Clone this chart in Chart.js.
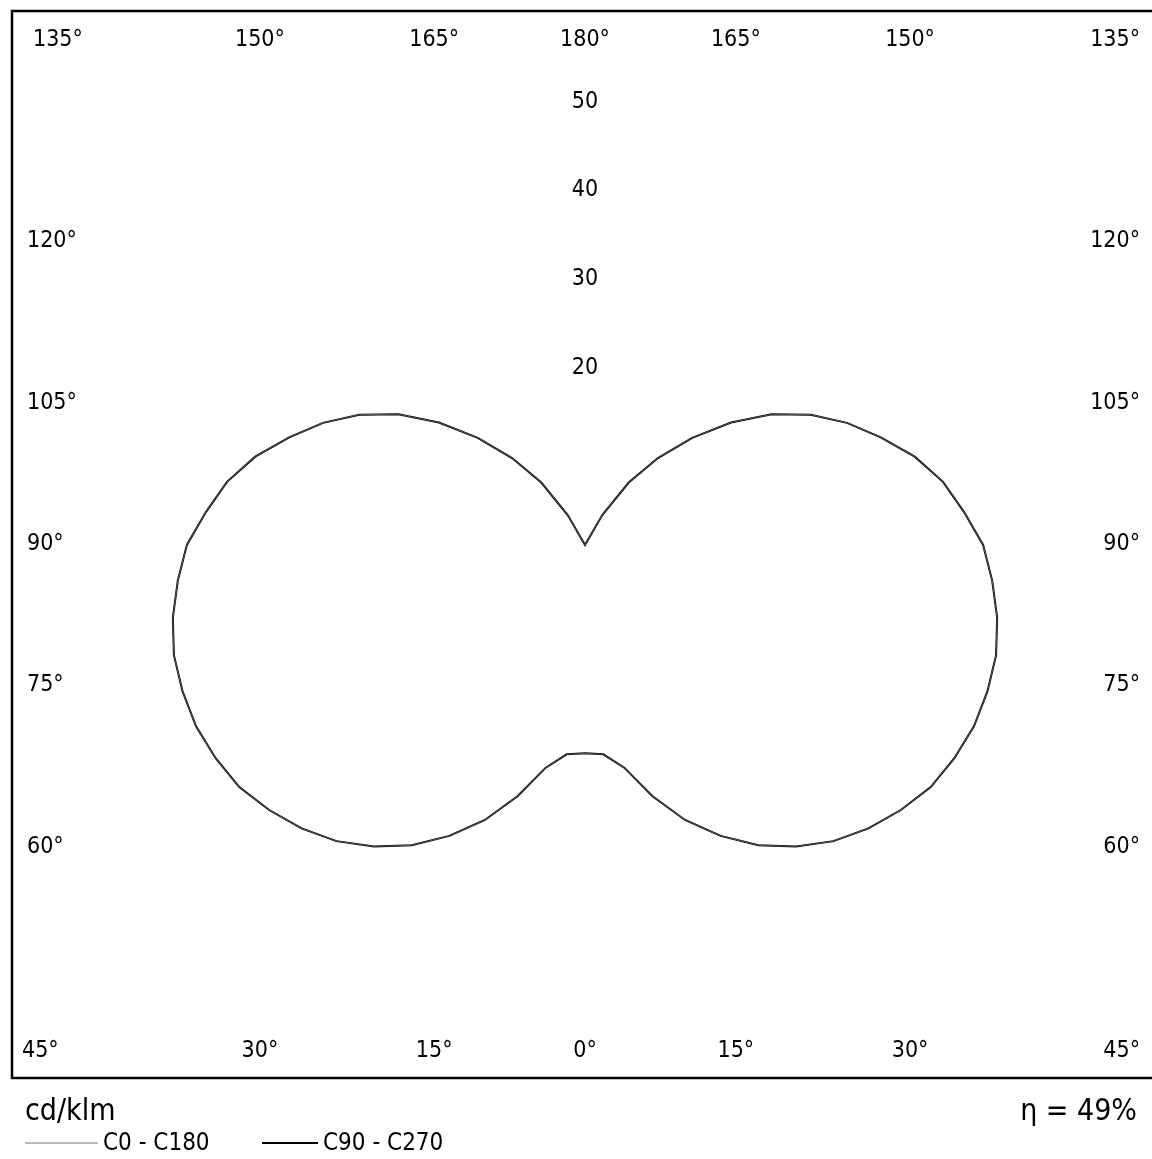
<!DOCTYPE html>
<html>
<head>
<meta charset="utf-8">
<script src="https://cdn.jsdelivr.net/npm/chart.js@4.4.0/dist/chart.umd.min.js"></script>
<style>
html, body { margin: 0; padding: 0; background: #fff; }
canvas { display: block; }
</style>
</head>
<body>
<canvas id="ldc" width="1152" height="1159"></canvas>
<script>
// Ausstrahlungswinkel gamma (0° = nach unten, 180° = nach oben)
const gammaDeg = [0, 5, 10, 15, 20, 25, 30, 35, 40, 45, 50, 55, 60, 65, 70, 75, 80, 85, 90,
                  95, 100, 105, 110, 115, 120, 125, 130, 135, 140, 145, 150, 155, 160, 165, 170, 175, 180];
// Lichtstaerke in cd/klm
const c90c270 = [23.5, 23.7, 25.5, 29.3, 33.0, 36.2, 39.1, 41.5, 43.6, 45.2, 46.5, 47.6, 48.1, 48.4, 48.3, 48.0, 47.2, 46.1, 44.9,
                 42.9, 41.0, 38.5, 35.5, 32.6, 29.4, 25.7, 21.5, 17.1, 12.8, 8.6, 3.9, 0, 0, 0, 0, 0, 0];
// C0-C180 liegt deckungsgleich unter der C90-C270 Kurve
const c0c180 = [23.5, 23.7, 25.5, 29.3, 33.0, 36.2, 39.1, 41.5, 43.6, 45.2, 46.5, 47.6, 48.1, 48.4, 48.3, 48.0, 47.2, 46.1, 44.9,
                42.9, 41.0, 38.5, 35.5, 32.6, 29.4, 25.7, 21.5, 17.1, 12.8, 8.6, 3.9, 0, 0, 0, 0, 0, 0];

// Beschriftungen
const radialTicks = [20, 30, 40, 50];
const topAngles = [135, 150, 165, 180, 165, 150, 135];
const bottomAngles = [45, 30, 15, 0, 15, 30, 45];
const sideAngles = [120, 105, 90, 75, 60];
const unitLabel = 'cd/klm';
const etaLabel = 'η = 49%';

const fontFam = "'DejaVu Sans Condensed', 'DejaVu Sans', sans-serif";
Chart.defaults.font.family = fontFam;
Chart.defaults.color = '#000';

// Radar: Index 0 oben (180°), im Uhrzeigersinn rechts herunter bis 0°, links wieder hinauf
const radarLabels = [];
const radarC90 = [];
const radarC0 = [];
for (let i = 0; i < 72; i++) {
    const g = i <= 36 ? 180 - 5 * i : 5 * i - 180;
    const k = gammaDeg.indexOf(g);
    radarLabels.push(g + '°');
    radarC90.push(c90c270[k]);
    radarC0.push(c0c180[k]);
}

// Rahmen, Winkelbeschriftung und Legende
const rahmenPlugin = {
    id: 'rahmen',
    afterDraw(chart) {
        const r = chart.scales.r;
        const cx = r.xCenter, cy = r.yCenter;
        const ctx = chart.ctx;
        const rad = Math.PI / 180;
        ctx.save();
        ctx.strokeStyle = '#000';
        ctx.lineWidth = 2.5;
        ctx.beginPath();
        ctx.moveTo(chart.width, cy - 534);
        ctx.lineTo(12, cy - 534);
        ctx.lineTo(12, cy + 533);
        ctx.lineTo(chart.width, cy + 533);
        ctx.stroke();

        ctx.fillStyle = '#000';
        ctx.font = '23px ' + fontFam;
        ctx.textBaseline = 'middle';

        topAngles.forEach((a, j) => {
            const s = j < 3 ? -1 : (j > 3 ? 1 : 0);
            if (j === 0) { ctx.textAlign = 'left'; ctx.fillText(a + '°', 33, cy - 505); return; }
            if (j === 6) { ctx.textAlign = 'right'; ctx.fillText(a + '°', 1140, cy - 505); return; }
            ctx.textAlign = 'center';
            ctx.fillText(a + '°', cx + s * 563 * Math.tan((180 - a) * rad), cy - 505);
        });
        bottomAngles.forEach((a, j) => {
            const s = j < 3 ? -1 : (j > 3 ? 1 : 0);
            if (j === 0) { ctx.textAlign = 'left'; ctx.fillText(a + '°', 22, cy + 506); return; }
            if (j === 6) { ctx.textAlign = 'right'; ctx.fillText(a + '°', 1140, cy + 506); return; }
            ctx.textAlign = 'center';
            ctx.fillText(a + '°', cx + s * 563 * Math.tan(a * rad), cy + 506);
        });
        sideAngles.forEach(a => {
            const y = cy + 525 / Math.tan(a * rad) - 1;
            ctx.textAlign = 'left';
            ctx.fillText(a + '°', 27, y);
            ctx.textAlign = 'right';
            ctx.fillText(a + '°', 1140, y);
        });

        ctx.font = '30px ' + fontFam;
        ctx.textAlign = 'left';
        ctx.fillText(unitLabel, 25, 1112);
        ctx.textAlign = 'right';
        ctx.fillText(etaLabel, 1137, 1112);

        // Legende
        ctx.font = '24px ' + fontFam;
        ctx.textAlign = 'left';
        const legX = [[25, 98], [262, 318]];
        chart.data.datasets.forEach((ds, i) => {
            ctx.strokeStyle = ds.legendColor;
            ctx.lineWidth = ds.legendWidth;
            ctx.beginPath();
            ctx.moveTo(legX[i][0], 1143);
            ctx.lineTo(legX[i][1], 1143);
            ctx.stroke();
            ctx.fillText(ds.label, legX[i][1] + 5, 1144);
        });
        ctx.restore();
    }
};

new Chart(document.getElementById('ldc'), {
    type: 'radar',
    data: {
        labels: radarLabels,
        datasets: [{
            label: 'C0 - C180',
            data: radarC0,
            borderColor: '#555',
            borderWidth: 1,
            legendColor: '#777',
            legendWidth: 1,
            fill: false
        }, {
            label: 'C90 - C270',
            data: radarC90,
            borderColor: '#000',
            borderWidth: 2,
            legendColor: '#000',
            legendWidth: 2,
            fill: false
        }]
    },
    options: {
        responsive: false,
        animation: false,
        layout: { padding: { left: 18, right: 0, top: 2, bottom: 70 } },
        elements: {
            line: { tension: 0 },
            point: { radius: 0, hoverRadius: 0 }
        },
        plugins: {
            legend: { display: false },
            tooltip: { enabled: false }
        },
        scales: {
            r: {
                min: 0,
                max: 60,
                startAngle: 0,
                grid: { display: false },
                angleLines: { display: false },
                pointLabels: { display: false },
                ticks: {
                    stepSize: 10,
                    font: { size: 23 },
                    color: '#000',
                    showLabelBackdrop: false,
                    backdropPadding: 0,
                    callback: v => radialTicks.includes(v) ? String(v) : ''
                }
            }
        }
    },
    plugins: [rahmenPlugin]
});
</script>
</body>
</html>
